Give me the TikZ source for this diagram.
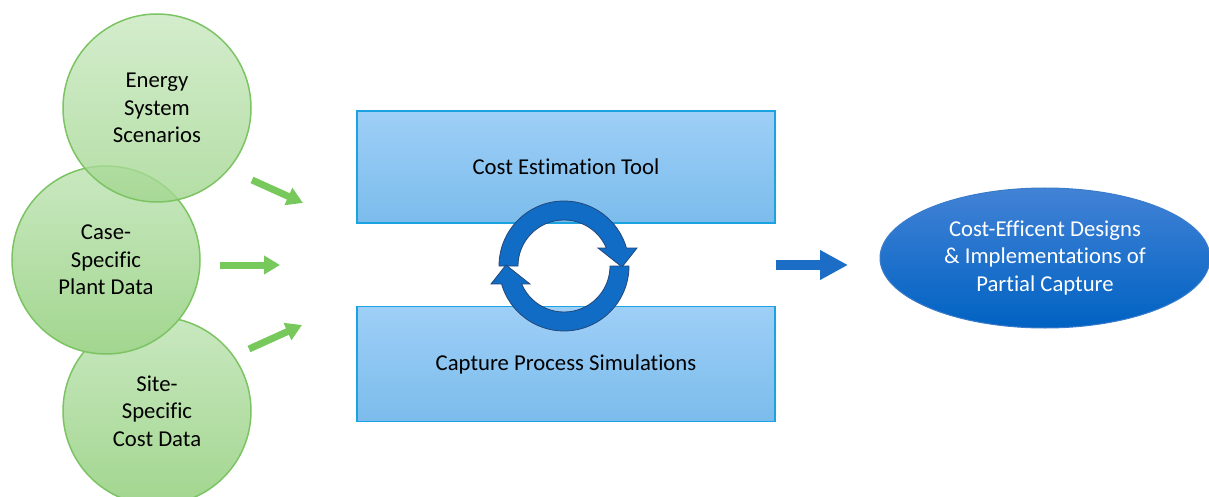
\documentclass[tikz,border=0pt]{standalone}
\usepackage{fontspec}
\setmainfont{Carlito}[Ligatures=NoCommon]
\usepackage{tikz}
\usetikzlibrary{shapes,arrows.meta,positioning,calc}

\definecolor{bubtop}{HTML}{C9E8C0}
\definecolor{bubbot}{HTML}{A2D68F}
\definecolor{bubedge}{HTML}{7CC463}
\definecolor{feedgreen}{HTML}{78C95C}
\definecolor{boxtop}{HTML}{9ECFF7}
\definecolor{boxbot}{HTML}{7BBCEC}
\definecolor{boxedge}{HTML}{1AA3E0}
\definecolor{cycblue}{HTML}{106CC4}
\definecolor{cycedge}{HTML}{24477A}
\definecolor{outtop}{HTML}{4282D6}
\definecolor{outbot}{HTML}{0062C2}
\definecolor{outedge}{HTML}{3A7CCB}
\definecolor{flowblue}{HTML}{1C6DC6}

\tikzset{
    bigfont/.style={font=\fontsize{22.7}{27.5}\selectfont},
    bubble/.style={draw=bubedge, line width=1.5pt, circle, minimum size=188pt,
        top color=bubtop, bottom color=bubbot, align=center, bigfont},
    toolbox/.style={draw=boxedge, line width=1.5pt, rectangle, minimum width=418pt,
        minimum height=112pt, top color=boxtop, bottom color=boxbot, bigfont},
    result/.style={draw=outedge, line width=1pt, ellipse, minimum width=330pt,
        minimum height=140pt, top color=outtop, bottom color=outbot,
        text=white, align=center, bigfont},
    feed/.style={-{Triangle[length=16pt,width=18pt]}, line width=7pt, feedgreen},
    flow/.style={-{Triangle[length=28pt,width=28pt]}, line width=10pt, flowblue}
}

\begin{document}
\begin{tikzpicture}[x=1pt, y=1pt]
    \useasboundingbox (0,0) rectangle (1209,496);

    % input circles
    \node [bubble] (site) at (157,85) {Site-\\Specific\\Cost Data};
    \node [bubble] (plant) at (106,236) {Case-\\Specific\\Plant Data};
    \node [bubble, fill opacity=0.8, text opacity=1] (energy) at (157,388) {Energy\\System\\Scenarios};

    % tools
    \node [toolbox] (cost) at (566,329) {Cost Estimation Tool};
    \node [toolbox, minimum height=115pt, below=82pt of cost] (sim) {Capture Process Simulations};

    \node [result] (design) at (1045,238) {Cost-Efficent Designs\\\& Implementations of\\Partial Capture};

    % feed arrows
    \coordinate (f1a) at (252,316);
    \coordinate (f1b) at (303,293);
    \coordinate (f2a) at (220,231);
    \coordinate (f2b) at (280,231);
    \coordinate (f3a) at (249,147);
    \coordinate (f3b) at (302,171);
    \draw [feed] (f1a) -- (f1b);
    \draw [feed] (f2a) -- (f2b);
    \draw [feed] (f3a) -- (f3b);

    % iteration loop
    \coordinate (cyc) at (564,230);
    \foreach \turn in {0,180}
        \draw [draw=cycedge, fill=cycblue, line width=0.8pt, shift={(cyc)}, rotate=\turn]
            (180:65) arc (180:16:65) -- (73,18) -- (58,-1) -- (34,18) -- (23:46)
            arc (23:180:46) -- cycle;

    \coordinate (outa) at (776,231);
    \coordinate (outb) at (848,231);
    \draw [flow] (outa) -- (outb);
\end{tikzpicture}
\end{document}
